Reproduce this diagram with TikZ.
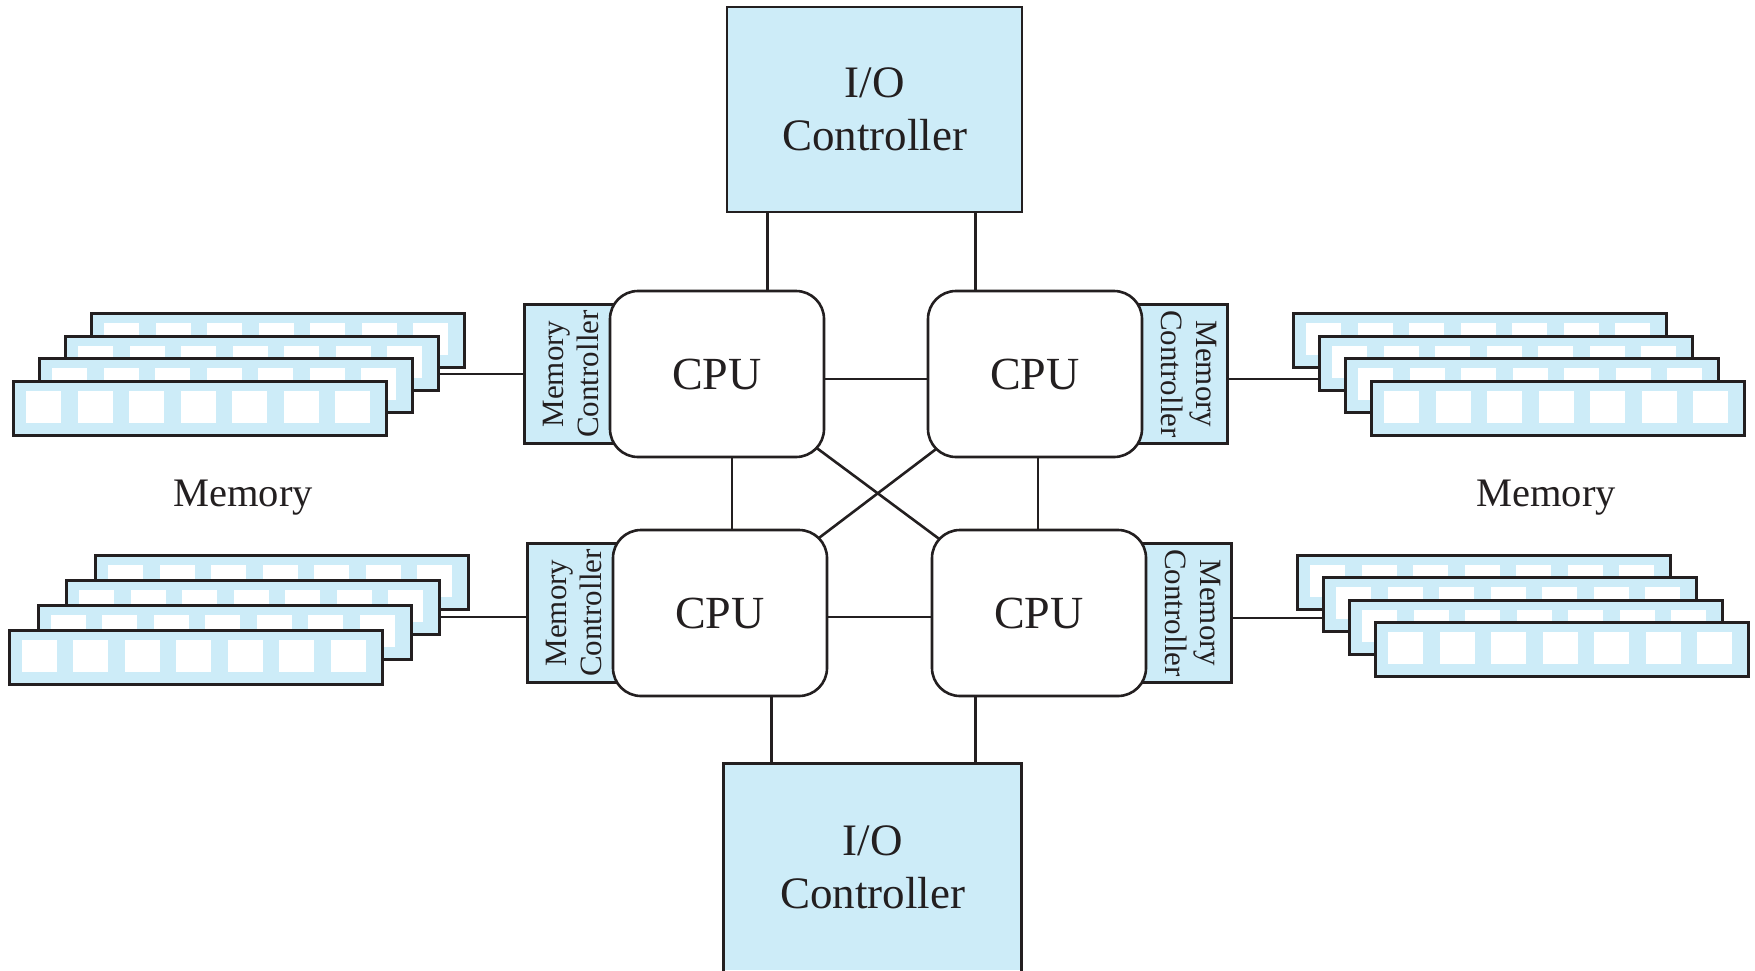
\documentclass[tikz,border=0pt]{standalone}
\usepackage{fontspec}
\setmainfont{Liberation Serif}
\usetikzlibrary{backgrounds,calc}
\definecolor{memblue}{RGB}{205,236,248}
\definecolor{ink}{RGB}{35,31,32}

% one stack of four memory sticks: name, x, y of the back stick, step dx, dy
\newcommand{\memstack}[5]{%
  \foreach \k in {0,1,2,3} {
    \node[stick] (#1\k) at ({#2+\k*#4},{#3+\k*#5}) {};
    \foreach \i in {0,...,6}
      \fill[white] ($(#1\k.north west)+(14+\i*51.5,11)$) rectangle ++(35,32);
  }%
}
\newcommand{\mcleft}{\rotatebox{90}{\begin{tabular}{@{}c@{}}Memory\\Controller\end{tabular}}\hspace{17pt}}
\newcommand{\mcright}{\hspace{17pt}\rotatebox{-90}{\begin{tabular}{@{}c@{}}Memory\\Controller\end{tabular}}}

\begin{document}
\begin{tikzpicture}[x=1pt,y=-1pt,
    line width=2.6pt, color=ink,
    cpu/.style={draw=ink, fill=white, rounded corners=28pt, minimum width=214pt,
      minimum height=166pt, inner sep=0pt, font=\fontsize{46}{55}\selectfont},
    ioctl/.style={draw=ink, fill=memblue, minimum width=295pt, minimum height=205pt,
      align=center, font=\fontsize{45}{53}\selectfont},
    memctl/.style={draw=ink, fill=memblue, minimum width=100pt, minimum height=139pt,
      inner sep=0pt, font=\fontsize{31}{35}\selectfont},
    stick/.style={draw=ink, fill=memblue, line width=3pt, minimum width=373pt,
      minimum height=54pt, inner sep=0pt, anchor=north west},
    memlabel/.style={font=\fontsize{40.5}{48}\selectfont}]
  \useasboundingbox (0,0) rectangle (1755,970);

  % I/O controllers
  \node[ioctl] (IOt) at (874.5,109.5) {I/O\\Controller};
  \node[ioctl, draw=none] (IOb) at (872.5,867.5) {I/O\\Controller};
  \draw (IOb.south west) -- (IOb.north west) -- (IOb.north east) -- (IOb.south east);

  % processors
  \node[cpu] (TL) at (717,374) {CPU};
  \node[cpu] (TR) at (1035,374) {CPU};
  \node[cpu] (BL) at (720,613) {CPU};
  \node[cpu] (BR) at (1039,613) {CPU};

  % memory
  \memstack{lt}{90}{312}{-26}{22.5}
  \memstack{rt}{1292}{312}{26}{22.5}
  \memstack{lb}{94}{554}{-28.7}{25}
  \memstack{rb}{1296}{554}{26}{22.3}
  \node[memlabel] (memL) at (243,498) {Memory};
  \node[memlabel] (memR) at (1546,498) {Memory};

  \begin{scope}[on background layer={line width=2.6pt, color=ink}]
    \node[memctl, anchor=east] (mcTL) at ([xshift=17pt]TL.west) {\mcleft};
    \node[memctl, anchor=west] (mcTR) at ([xshift=-17pt]TR.east) {\mcright};
    \node[memctl, anchor=east] (mcBL) at ([xshift=17pt]BL.west) {\mcleft};
    \node[memctl, anchor=west] (mcBR) at ([xshift=-17pt]BR.east) {\mcright};

    \draw (mcTL.west) -- (mcTL.west -| lt1.east);
    \draw ([yshift=-5pt]mcTR.east) -- ([yshift=-5pt]mcTR.east -| rt1.west);
    \draw ([yshift=-4pt]mcBL.west) -- ([yshift=-4pt]mcBL.west -| lb1.east);
    \draw ([yshift=-5pt]mcBR.east) -- ([yshift=-5pt]mcBR.east -| rb1.west);

    \draw ([xshift=-107pt]IOt.south) -- ([xshift=-107pt]IOt.south |- TL.north);
    \draw ([xshift=101pt]IOt.south) -- ([xshift=101pt]IOt.south |- TR.north);
    \draw ([xshift=-101pt]IOb.north) -- ([xshift=-101pt]IOb.north |- BL.south);
    \draw ([xshift=103pt]IOb.north) -- ([xshift=103pt]IOb.north |- BR.south);

    \draw ([yshift=-5pt]TL.east) -- ([yshift=-5pt]TL.east -| TR.west);
    \draw ([yshift=-4pt]BL.east) -- ([yshift=-4pt]BL.east -| BR.west);
    \draw ([xshift=15pt]TL.south) -- ([xshift=15pt]TL.south |- BL.north);
    \draw ([xshift=3pt]TR.south) -- ([xshift=3pt]TR.south |- BR.north);
    \draw (TL.center) -- (BR.center);
    \draw (TR.center) -- (BL.center);
  \end{scope}
\end{tikzpicture}
\end{document}
